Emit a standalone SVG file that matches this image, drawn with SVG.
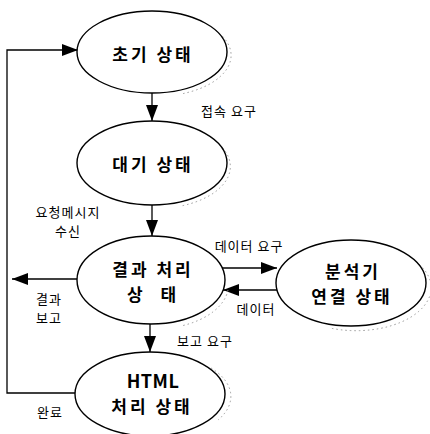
<svg xmlns="http://www.w3.org/2000/svg" width="430" height="434" viewBox="0 0 430 434">
<style>
.node{fill:#fff;stroke:#000;stroke-width:1.4}
.sh{fill:none;stroke:#999;stroke-width:1;stroke-dasharray:1.5 3}
.nt{font-family:"Noto Sans CJK KR","Noto Sans",sans-serif;font-weight:bold;font-size:17px;letter-spacing:3px;text-anchor:middle;dominant-baseline:central;fill:#000}
.lb{font-family:"Noto Sans CJK KR","Noto Sans",sans-serif;font-size:13px;letter-spacing:1px;text-anchor:middle;dominant-baseline:central;fill:#000}
.ln{fill:none;stroke:#000;stroke-width:1.3}
</style>
<defs>
<marker id="ah" viewBox="0 0 16 12" refX="16" refY="6" markerWidth="16" markerHeight="12" orient="auto" markerUnits="userSpaceOnUse"><path d="M0,0 L16,6 L0,12 z" fill="#000"/></marker>
</defs>
<rect width="430" height="434" fill="#fff"/>
<g id="connectors">
<line class="ln" x1="152" y1="93" x2="152" y2="121" marker-end="url(#ah)"/>
<line class="ln" x1="152" y1="205" x2="152" y2="236" marker-end="url(#ah)"/>
<line class="ln" x1="150" y1="324" x2="150" y2="352" marker-end="url(#ah)"/>
<line class="ln" x1="222" y1="268" x2="277" y2="268" marker-end="url(#ah)"/>
<line class="ln" x1="278" y1="290" x2="223" y2="290" marker-end="url(#ah)"/>
<line class="ln" x1="77" y1="279" x2="12" y2="279" marker-end="url(#ah)"/>
<polyline class="ln" points="76,393 7,393 7,50 78,50" marker-end="url(#ah)"/>
</g>
<g id="n1">
<path class="sh" d="M212,28 A75,41 0 0,1 181,94"/>
<ellipse class="node" cx="152" cy="52" rx="75" ry="41"/>
<text class="nt" x="153" y="53">초기 상태</text>
</g>
<g id="n2">
<path class="sh" d="M212,139 A75,42 0 0,1 181,206"/>
<ellipse class="node" cx="152" cy="163" rx="75" ry="42"/>
<text class="nt" x="153" y="163">대기 상태</text>
</g>
<g id="n3">
<path class="sh" d="M228,290 A74,44 0 0,1 181,326"/>
<ellipse class="node" cx="151" cy="280" rx="74" ry="44"/>
<text class="nt" x="153" y="268">결과 처리</text>
<text class="nt" x="153" y="293" style="word-spacing:8px">상 태</text>
</g>
<g id="n4">
<path class="sh" d="M211,368 A75,42 0 0,1 218,420"/>
<ellipse class="node" cx="150" cy="394" rx="75" ry="42"/>
<text class="nt" x="153" y="380" style="letter-spacing:0.5px;font-size:18px">HTML</text>
<text class="nt" x="152" y="405">처리 상태</text>
</g>
<g id="n5">
<path class="sh" d="M412,259 A75,43 0 0,1 330,328"/>
<ellipse class="node" cx="351" cy="283" rx="75" ry="43"/>
<text class="nt" x="353" y="270">분석기</text>
<text class="nt" x="352" y="295">연결 상태</text>
</g>
<g id="labels">
<text class="lb" x="68" y="211">요청메시지</text>
<text class="lb" x="68" y="230">수신</text>
<text class="lb" x="229" y="110">접속 요구</text>
<text class="lb" x="249" y="245">데이터 요구</text>
<text class="lb" x="256" y="308">데이터</text>
<text class="lb" x="49" y="298">결과</text>
<text class="lb" x="49" y="317">보고</text>
<text class="lb" x="205" y="340">보고 요구</text>
<text class="lb" x="50" y="411">완료</text>
</g>
</svg>
